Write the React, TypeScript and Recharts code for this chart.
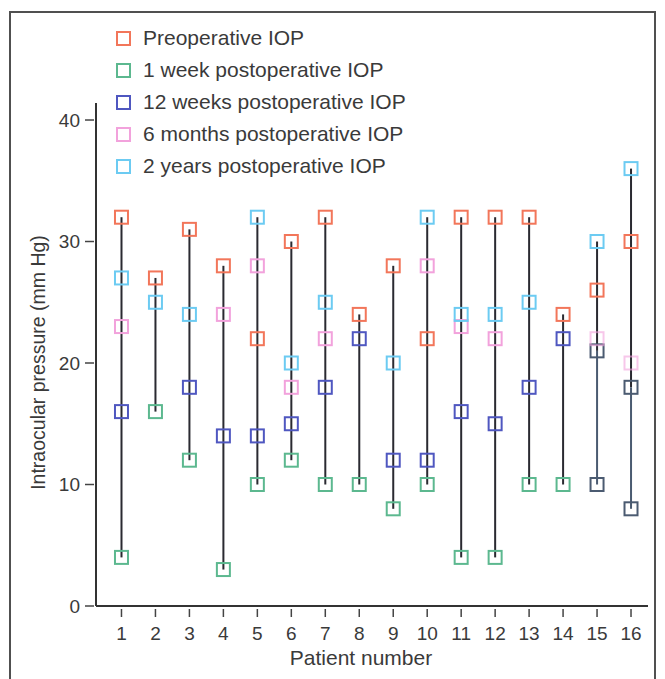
import {
  Bar,
  ComposedChart,
  Label,
  Legend,
  Scatter,
  XAxis,
  YAxis,
} from "recharts";

const patients = [1, 2, 3, 4, 5, 6, 7, 8, 9, 10, 11, 12, 13, 14, 15, 16];
const preop = [32, 27, 31, 28, 22, 30, 32, 24, 28, 22, 32, 32, 32, 24, 26, 30];
const week1 = [4, 16, 12, 3, 10, 12, 10, 10, 8, 10, 4, 4, 10, 10, 10, 8];
const week12 = [16, null, 18, 14, 14, 15, 18, 22, 12, 12, 16, 15, 18, 22, 21, 18];
const month6 = [23, null, null, 24, 28, 18, 22, null, null, 28, 23, 22, null, null, 22, 20];
const year2 = [27, 25, 24, null, 32, 20, 25, null, 20, 32, 24, 24, 25, null, 30, 36];
const yTicks = [0, 10, 20, 30, 40];

// the last two patients are printed in a washed-out slate colour in the source
const SLATE_PATIENTS = [15, 16];
const SLATE = "#4b5b71";
const TEXT = "#3a3a3a";
const FONT_SIZE = 19;

const SERIES = [
  { key: "pre", name: "Preoperative IOP", color: "#f2765a" },
  { key: "wk1", name: "1 week postoperative IOP", color: "#5cb88f" },
  { key: "wk12", name: "12 weeks postoperative IOP", color: "#4f57c0" },
  { key: "mo6", name: "6 months postoperative IOP", color: "#f2a2dc" },
  { key: "yr2", name: "2 years postoperative IOP", color: "#6ccbf2" },
];

const rows = patients.map((p, i) => {
  const vals = [preop[i], week1[i], week12[i], month6[i], year2[i]].filter(
    (v) => v != null
  ) as number[];
  return {
    patient: p,
    pre: preop[i],
    wk1: week1[i],
    wk12: week12[i],
    mo6: month6[i],
    yr2: year2[i],
    range: [Math.min(...vals), Math.max(...vals)],
  };
});

function RangeLine(props: any) {
  const { x, y, width, height, payload } = props;
  if (height == null || isNaN(y)) return null;
  const [lo, hi] = payload.range;
  const ppu = height / (hi - lo);
  const slate = SLATE_PATIENTS.includes(payload.patient);
  const cut = slate ? y + (hi - payload.wk12) * ppu : y + height;
  return (
    <g>
      <rect x={x} y={y} width={width} height={cut - y} fill="#2a2a31" />
      {slate && (
        <rect x={x} y={cut} width={width} height={y + height - cut} fill={SLATE} />
      )}
    </g>
  );
}

function makeMarker(key: string, color: string) {
  return (props: any) => {
    const { cx, cy, payload } = props;
    if (payload[key] == null) return <g />;
    let stroke = color;
    let opacity = 1;
    if (SLATE_PATIENTS.includes(payload.patient)) {
      if (key === "wk1" || key === "wk12") stroke = SLATE;
      if (key === "mo6") opacity = 0.6;
    }
    return (
      <rect
        x={cx - 6.5}
        y={cy - 6.5}
        width={13}
        height={13}
        fill="none"
        stroke={stroke}
        strokeWidth={2}
        opacity={opacity}
      />
    );
  };
}

function YTick(props: any) {
  const { x, y, payload } = props;
  return (
    <g>
      <line x1={x - 11} x2={x - 2} y1={y} y2={y} stroke="#444" strokeWidth={1.5} />
      <text x={x - 16} y={y} dy="0.35em" textAnchor="end" fontSize={FONT_SIZE} fill={TEXT}>
        {payload.value}
      </text>
    </g>
  );
}

function XTick(props: any) {
  const { x, y, payload } = props;
  return (
    <g>
      <line x1={x} x2={x} y1={y + 3} y2={y + 11} stroke="#444" strokeWidth={1.5} />
      <text x={x} y={y + 27} dy="0.35em" textAnchor="middle" fontSize={FONT_SIZE} fill={TEXT}>
        {payload.value}
      </text>
    </g>
  );
}

function LegendBox() {
  return (
    <div style={{ fontFamily: "inherit" }}>
      {SERIES.map((s) => (
        <div
          key={s.key}
          style={{ display: "flex", alignItems: "center", height: 32 }}
        >
          <svg width={17} height={17} style={{ marginRight: 11 }}>
            <rect x={2} y={2} width={13} height={13} fill="none" stroke={s.color} strokeWidth={2} />
          </svg>
          <span style={{ fontSize: 21, color: TEXT, whiteSpace: "nowrap" }}>
            {s.name}
          </span>
        </div>
      ))}
    </div>
  );
}

export default function App() {
  return (
    <div
      style={{
        position: "relative",
        width: 665,
        height: 679,
        overflow: "hidden",
        background: "#fff",
        fontFamily: '"Liberation Sans", Arial, sans-serif',
      }}
    >
      <style>{"body{margin:0;overflow:hidden}"}</style>
      <div
        style={{
          position: "absolute",
          left: 9,
          top: 11,
          width: 643,
          height: 700,
          border: "2px solid #505050",
        }}
      />
      <ComposedChart
        width={665}
        height={679}
        data={rows}
        margin={{ top: 103, right: 17, bottom: 43, left: 36 }}
        style={{ position: "absolute", left: 0, top: 0 }}
      >
        <XAxis
          type="number"
          dataKey="patient"
          domain={[0.25, 16.5]}
          ticks={patients}
          height={30}
          tickSize={0}
          tickMargin={0}
          tick={<XTick />}
          axisLine={{ stroke: "#333", strokeWidth: 2 }}
          interval={0}
        >
          <Label
            content={(p: any) => (
              <text
                x={p.viewBox.x + p.viewBox.width / 2 - 11}
                y={658}
                dy="0.35em"
                textAnchor="middle"
                fontSize={21}
                fill={TEXT}
              >
                Patient number
              </text>
            )}
          />
        </XAxis>
        <YAxis
          type="number"
          domain={[0, 41.4]}
          ticks={yTicks}
          width={60}
          tickSize={0}
          tickMargin={0}
          tick={<YTick />}
          axisLine={{ stroke: "#333", strokeWidth: 2 }}
          allowDataOverflow
        >
          <Label
            content={(p: any) => {
              const cx = 38;
              const cy = p.viewBox.y + p.viewBox.height / 2 + 8;
              return (
                <text
                  x={cx}
                  y={cy}
                  dy="0.35em"
                  textAnchor="middle"
                  fontSize={19.5}
                  fill={TEXT}
                  transform={`rotate(-90 ${cx} ${cy})`}
                >
                  Intraocular pressure (mm Hg)
                </text>
              );
            }}
          />
        </YAxis>
        <Bar
          dataKey="range"
          barSize={2}
          shape={<RangeLine />}
          isAnimationActive={false}
          legendType="none"
        />
        {SERIES.map((s) => (
          <Scatter
            key={s.key}
            dataKey={s.key}
            name={s.name}
            fill={s.color}
            shape={makeMarker(s.key, s.color)}
            isAnimationActive={false}
          />
        ))}
        <Legend
          layout="vertical"
          align="center"
          verticalAlign="middle"
          content={<LegendBox />}
          wrapperStyle={{ left: 115, top: 22, width: "auto" }}
        />
      </ComposedChart>
    </div>
  );
}
